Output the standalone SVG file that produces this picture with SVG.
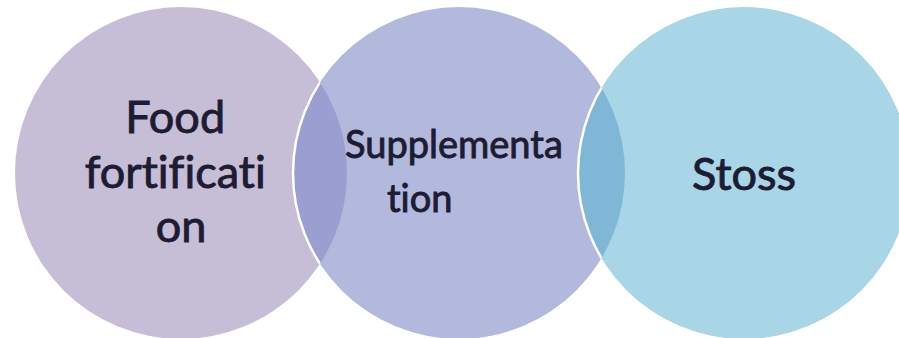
<svg xmlns="http://www.w3.org/2000/svg" width="899" height="338" viewBox="0 0 899 338">
  <style>
    .lbl { font-family: Lato, "Open Sans", "Liberation Sans", sans-serif; fill: #1d1c33; stroke: #1d1c33; stroke-width: 0.9; font-variant-ligatures: none; font-feature-settings: "liga" 0, "clig" 0; }
    .big { font-size: 45px; }
    .mid { font-size: 38px; }
    .edge { fill: none; stroke: #ffffff; stroke-width: 2.5; }
  </style>
  <defs>
    <clipPath id="clipA"><circle cx="181" cy="173" r="166"/></clipPath>
    <clipPath id="clipB"><circle cx="459" cy="173" r="166"/></clipPath>
  </defs>
  <rect width="899" height="338" fill="#ffffff"/>

  <g id="food-fortification">
    <circle cx="181" cy="173" r="166" fill="#c6bdd6"/>
    <text class="lbl big" text-anchor="middle">
      <tspan x="181" y="133">Food</tspan>
      <tspan x="181" y="188">fortificati</tspan>
      <tspan x="181" y="242">on</tspan>
    </text>
  </g>

  <g id="supplementation">
    <circle cx="459" cy="173" r="166" fill="#b2b9dd"/>
    <!-- overlap with the first circle -->
    <circle cx="459" cy="173" r="166" fill="#9b9ed0" clip-path="url(#clipA)"/>
    <circle class="edge" cx="459" cy="173" r="166" clip-path="url(#clipA)"/>
    <text class="lbl mid">
      <tspan x="345" y="158">Supplementa</tspan>
      <tspan x="387" y="212">tion</tspan>
    </text>
  </g>

  <g id="stoss">
    <circle cx="744" cy="173" r="166" fill="#a8d6e6"/>
    <!-- overlap with the middle circle -->
    <circle cx="744" cy="173" r="166" fill="#80b7d7" clip-path="url(#clipB)"/>
    <circle class="edge" cx="744" cy="173" r="166" clip-path="url(#clipB)"/>
    <text class="lbl big" x="744" y="190" text-anchor="middle">Stoss</text>
  </g>

  <g id="connectors"/>
</svg>
